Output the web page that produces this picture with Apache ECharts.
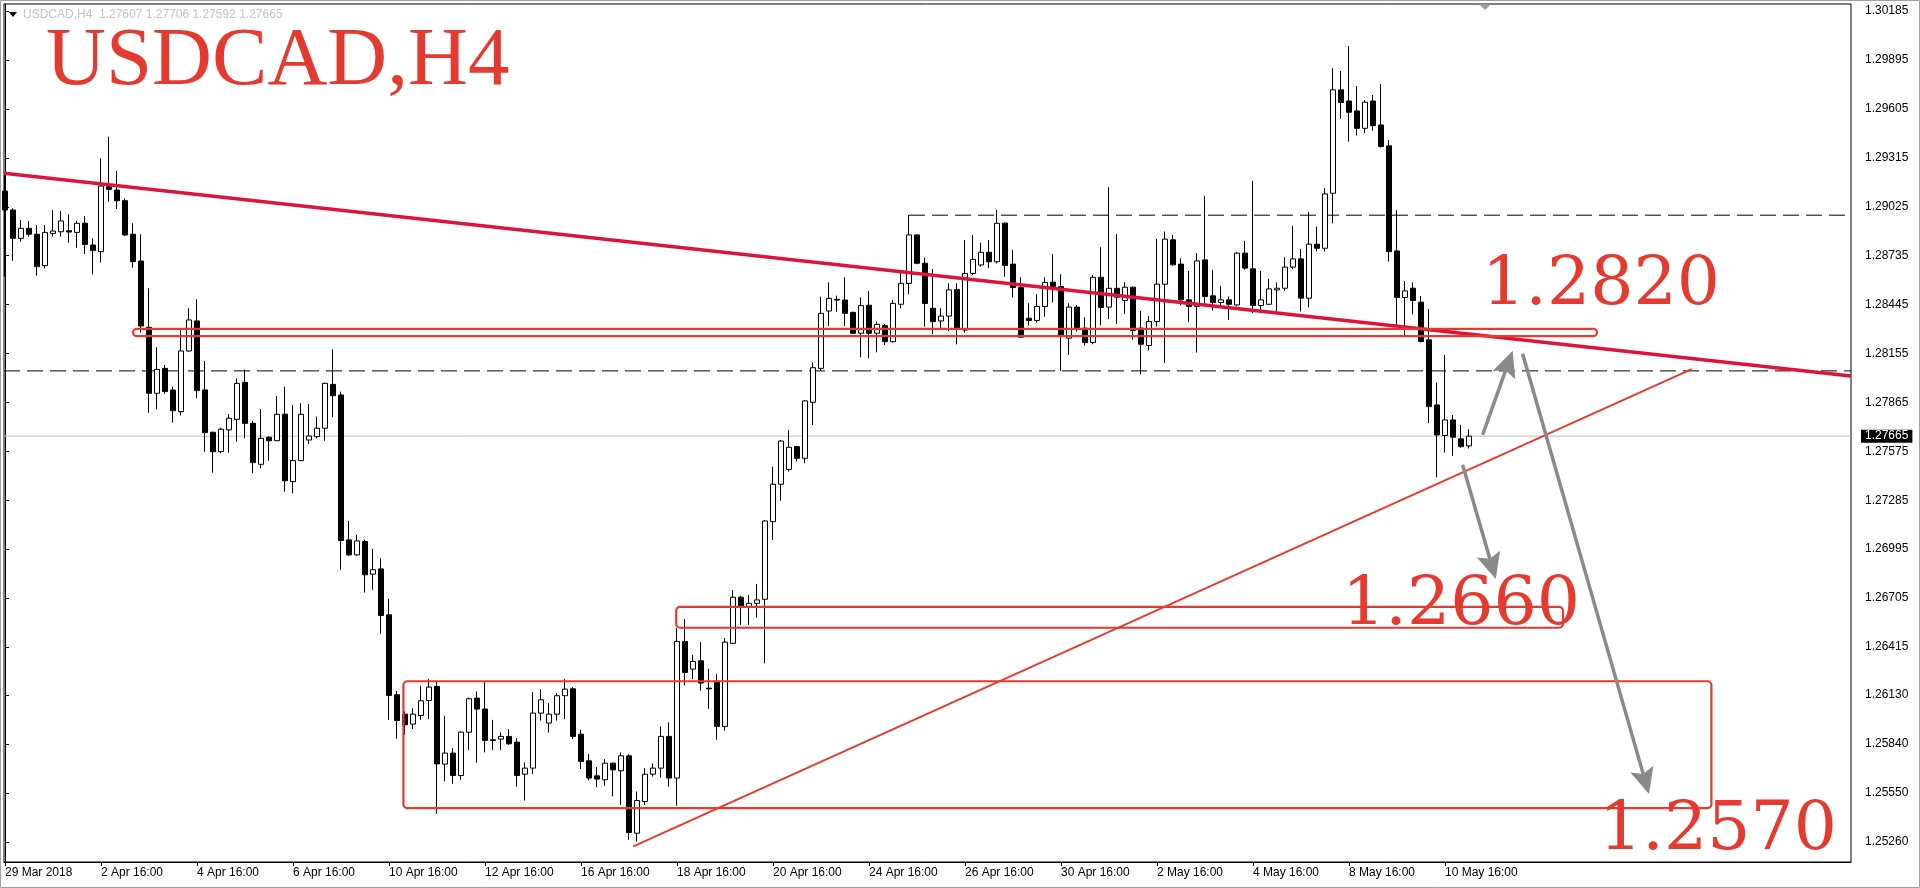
<!DOCTYPE html>
<html><head><meta charset="utf-8">
<script src="https://cdn.jsdelivr.net/npm/echarts@6/dist/echarts.min.js"></script>
<style>html,body{margin:0;padding:0;background:#fff;overflow:hidden}#c{width:1920px;height:888px}</style>
</head><body><div id="c"></div>
<script>
// ---- data (USDCAD H4, 184 candles) ----
const candleOpen = [1.29118,1.29006,1.28838,1.28897,1.28862,1.28676,1.28867,1.28877,1.28883,1.28873,1.28927,1.28798,1.28759,1.29144,1.29124,1.29061,1.28862,1.28703,1.28310,1.27919,1.28067,1.27939,1.27810,1.28170,1.28348,1.27939,1.27688,1.27573,1.27702,1.27765,1.27984,1.27741,1.27498,1.27658,1.27638,1.27795,1.27395,1.27520,1.27642,1.27662,1.27712,1.27972,1.27909,1.27050,1.26961,1.27040,1.26847,1.26878,1.26606,1.26132,1.26017,1.25958,1.26009,1.26098,1.26181,1.25721,1.25786,1.25653,1.25910,1.26112,1.26047,1.25865,1.25869,1.25885,1.25851,1.25661,1.25697,1.26023,1.25964,1.26017,1.26126,1.26167,1.25898,1.25740,1.25651,1.25628,1.25726,1.25681,1.25770,1.25311,1.25499,1.25661,1.25697,1.25885,1.25638,1.26448,1.26284,1.26333,1.26171,1.26205,1.25944,1.26437,1.26710,1.26654,1.26674,1.26698,1.27158,1.27380,1.27468,1.27603,1.27534,1.27866,1.28067,1.28407,1.28476,1.28472,1.28399,1.28275,1.28441,1.28275,1.28320,1.28225,1.28447,1.28571,1.28858,1.28690,1.28423,1.28348,1.28377,1.28535,1.28294,1.28630,1.28680,1.28755,1.28699,1.28928,1.28685,1.28546,1.28364,1.28351,1.28434,1.28578,1.28552,1.28246,1.28430,1.28305,1.28220,1.28607,1.28430,1.28542,1.28469,1.28548,1.28305,1.28202,1.28345,1.28566,1.28829,1.28685,1.28473,1.28434,1.28710,1.28497,1.28457,1.28473,1.28443,1.28750,1.28657,1.28440,1.28447,1.28532,1.28542,1.28667,1.28716,1.28483,1.28803,1.28779,1.29105,1.29718,1.29652,1.29593,1.29490,1.29652,1.29510,1.29386,1.28763,1.28487,1.28542,1.28459,1.28236,1.27850,1.27669,1.27761,1.27649,1.27607];
const candleClose = [1.29006,1.28838,1.28897,1.28862,1.28670,1.28873,1.28881,1.28941,1.28875,1.28927,1.28802,1.28765,1.29148,1.29128,1.29061,1.28858,1.28700,1.28318,1.27919,1.28061,1.27929,1.27816,1.28170,1.28354,1.27935,1.27686,1.27573,1.27706,1.27771,1.27978,1.27741,1.27508,1.27652,1.27638,1.27795,1.27401,1.27520,1.27795,1.27666,1.27712,1.27978,1.27905,1.27046,1.26961,1.27044,1.26843,1.26873,1.26602,1.26128,1.25979,1.25954,1.26017,1.26096,1.26177,1.25722,1.25786,1.25653,1.25910,1.26108,1.26047,1.25861,1.25861,1.25885,1.25841,1.25653,1.25697,1.26023,1.26102,1.26017,1.26126,1.26165,1.25885,1.25736,1.25638,1.25632,1.25726,1.25687,1.25770,1.25315,1.25505,1.25661,1.25697,1.25885,1.25638,1.26448,1.26264,1.26329,1.26201,1.26167,1.25944,1.26444,1.26710,1.26654,1.26674,1.26694,1.27162,1.27380,1.27636,1.27599,1.27534,1.27874,1.28071,1.28393,1.28482,1.28472,1.28393,1.28275,1.28439,1.28275,1.28328,1.28225,1.28452,1.28571,1.28858,1.28690,1.28452,1.28344,1.28377,1.28532,1.28298,1.28630,1.28713,1.28755,1.28699,1.28927,1.28677,1.28546,1.28252,1.28351,1.28434,1.28576,1.28552,1.28256,1.28430,1.28309,1.28220,1.28607,1.28428,1.28542,1.28489,1.28548,1.28291,1.28210,1.28345,1.28566,1.28833,1.28681,1.28473,1.28434,1.28704,1.28493,1.28457,1.28473,1.28447,1.28750,1.28661,1.28440,1.28473,1.28538,1.28542,1.28667,1.28716,1.28483,1.28803,1.28779,1.29101,1.29718,1.29643,1.29585,1.29490,1.29645,1.29506,1.29382,1.28759,1.28487,1.28526,1.28469,1.28226,1.27840,1.27672,1.27761,1.27659,1.27603,1.27665];
const candleLow = [1.28611,1.28705,1.28818,1.28848,1.28617,1.28660,1.28848,1.28848,1.28812,1.28782,1.28745,1.28624,1.28694,1.29055,1.29012,1.28852,1.28664,1.28279,1.27804,1.27824,1.27915,1.27745,1.27787,1.28166,1.27889,1.27573,1.27449,1.27563,1.27567,1.27632,1.27652,1.27445,1.27474,1.27520,1.27638,1.27336,1.27326,1.27520,1.27619,1.27652,1.27638,1.27777,1.26872,1.26956,1.26956,1.26738,1.26754,1.26493,1.25983,1.25871,1.25894,1.25928,1.25983,1.25987,1.25426,1.25618,1.25604,1.25628,1.25805,1.25730,1.25790,1.25805,1.25805,1.25835,1.25588,1.25505,1.25661,1.25979,1.25908,1.25979,1.25987,1.25869,1.25691,1.25624,1.25584,1.25592,1.25529,1.25479,1.25272,1.25262,1.25479,1.25647,1.25641,1.25588,1.25474,1.26187,1.26224,1.26157,1.26049,1.25865,1.25920,1.26433,1.26546,1.26546,1.26589,1.26318,1.27050,1.27283,1.27455,1.27514,1.27504,1.27731,1.28053,1.28318,1.28403,1.28318,1.28271,1.28132,1.28126,1.28162,1.28205,1.28219,1.28423,1.28506,1.28684,1.28314,1.28269,1.28304,1.28288,1.28209,1.28279,1.28620,1.28670,1.28660,1.28690,1.28611,1.28487,1.28246,1.28321,1.28339,1.28374,1.28457,1.28052,1.28147,1.28285,1.28202,1.28210,1.28321,1.28359,1.28329,1.28390,1.28236,1.28032,1.28173,1.28315,1.28098,1.28675,1.28440,1.28341,1.28161,1.28449,1.28410,1.28443,1.28355,1.28434,1.28651,1.28394,1.28394,1.28443,1.28404,1.28528,1.28655,1.28404,1.28428,1.28760,1.28760,1.28927,1.29546,1.29411,1.29447,1.29461,1.29477,1.29376,1.28700,1.28315,1.28255,1.28388,1.28220,1.27742,1.27420,1.27568,1.27548,1.27597,1.27592];
const candleHigh = [1.29213,1.29016,1.28947,1.28941,1.28917,1.28917,1.29006,1.29000,1.28980,1.28941,1.28970,1.28838,1.29312,1.29440,1.29237,1.29075,1.28927,1.28862,1.28541,1.28192,1.28087,1.27959,1.28294,1.28423,1.28476,1.28111,1.27692,1.27715,1.27796,1.28008,1.28061,1.27755,1.27826,1.27666,1.27903,1.27959,1.27850,1.27860,1.27856,1.27781,1.27982,1.28180,1.27929,1.27163,1.27080,1.27050,1.26997,1.26942,1.26701,1.26155,1.26033,1.26052,1.26185,1.26226,1.26207,1.26007,1.25815,1.25914,1.26116,1.26151,1.26207,1.25983,1.25908,1.25928,1.25875,1.25730,1.26147,1.26165,1.26082,1.26141,1.26226,1.26177,1.25924,1.25780,1.25703,1.25750,1.25730,1.25790,1.25780,1.25558,1.25697,1.25726,1.25944,1.25968,1.26527,1.26580,1.26369,1.26444,1.26286,1.26256,1.26468,1.26753,1.26718,1.26723,1.26789,1.27168,1.27484,1.27642,1.27702,1.27607,1.27879,1.28103,1.28492,1.28577,1.28498,1.28607,1.28403,1.28488,1.28526,1.28344,1.28330,1.28472,1.28640,1.28976,1.28862,1.28723,1.28656,1.28423,1.28571,1.28571,1.28828,1.28858,1.28812,1.28828,1.29006,1.28932,1.28770,1.28607,1.28453,1.28507,1.28607,1.28744,1.28625,1.28453,1.28443,1.28370,1.28621,1.28785,1.29141,1.28864,1.28578,1.28552,1.28408,1.28378,1.28835,1.28878,1.28858,1.28720,1.28645,1.28750,1.29090,1.28651,1.28556,1.28493,1.28756,1.28823,1.29179,1.28645,1.28598,1.28576,1.28726,1.28912,1.28775,1.28993,1.28908,1.29135,1.29846,1.29830,1.29978,1.29741,1.29658,1.29688,1.29753,1.29421,1.29006,1.28585,1.28577,1.28496,1.28419,1.27983,1.28147,1.27791,1.27732,1.27706];

const xTickIndex = [0,12,24,36,48,60,72,84,96,108,120,132,144,156,168,180];
const xTickLabels = ["29 Mar 2018","2 Apr 16:00","4 Apr 16:00","6 Apr 16:00","10 Apr 16:00","12 Apr 16:00","16 Apr 16:00","18 Apr 16:00","20 Apr 16:00","24 Apr 16:00","26 Apr 16:00","30 Apr 16:00","2 May 16:00","4 May 16:00","8 May 16:00","10 May 16:00"];
const yTickValues = [1.25260,1.25550,1.25840,1.26130,1.26415,1.26705,1.26995,1.27285,1.27575,1.27865,1.28155,1.28445,1.28735,1.29025,1.29315,1.29605,1.29895,1.30185];

// drawn objects, in (bar index, price)
const mainTrend = [[-0.125,1.29224],[230.75,1.28021]];
const supportTrend = [[78.54,1.25233],[210.84,1.28062]];
const upperDash = [[113,1.28975],[230.75,1.28975]];
const lowerDash = [[-0.125,1.28052],[230.75,1.28052]];
const zones = [[16.0,1.28301,199.0,1.28258],[83.9,1.26653,194.75,1.26529],[49.8,1.26212,213.3,1.25460]];
const arrows = [[184.7,1.27673,188.46,1.28172],[182.2,1.27495,186.34,1.26818],[189.7,1.28153,205.5,1.25543]];
const levelTexts = ["1.2820","1.2660","1.2570"];
const symbolName = "USDCAD,H4";

const N = candleOpen.length;
const last = N - 1;
const lastPrice = candleClose[last];
const candleData = candleOpen.map((o,i)=>[i,o,candleClose[i],candleLow[i],candleHigh[i]]);
const priceLine = [[-0.125,lastPrice],[230.75,lastPrice]];

const RED = '#E53A2F';
const chart = echarts.init(document.getElementById('c'), null, {renderer:'canvas'});
chart.setOption({
  animation:false,
  backgroundColor:'#fff',
  grid:{left:4, top:4, width:1847, height:858, show:true, borderColor:'#000', borderWidth:1, backgroundColor:'transparent'},
  xAxis:{
    type:'value', min:-0.125, max:230.75,
    splitLine:{show:false},
    axisLine:{show:true, lineStyle:{color:'#000', width:1}},
    axisTick:{show:true, length:4, customValues:xTickIndex, lineStyle:{color:'#000'}},
    axisLabel:{customValues:xTickIndex, align:'left', margin:5, color:'#000', fontSize:12, fontFamily:'Liberation Sans',
      formatter:(v)=>{const k=xTickIndex.indexOf(Math.round(v)); return k>=0?xTickLabels[k]:'';}}
  },
  yAxis:{
    type:'value', position:'right', min:1.251403, max:1.302271, scale:true,
    splitLine:{show:false},
    axisLine:{show:true, lineStyle:{color:'#000', width:1}},
    axisTick:{show:true, length:4, customValues:yTickValues, lineStyle:{color:'#000'}},
    axisLabel:{customValues:yTickValues, margin:14, color:'#000', fontSize:12, fontFamily:'Liberation Sans',
      formatter:(v)=>v.toFixed(5)}
  },
  series:[
    {type:'line', data:lowerDash, symbol:'none', silent:true, z:1,
      lineStyle:{color:'#000', width:1, type:[16,7]}},
    {type:'line', data:upperDash, symbol:'none', silent:true, z:1,
      lineStyle:{color:'#000', width:1, type:[16,7]}},
    {type:'line', data:priceLine, symbol:'none', silent:true, z:1,
      lineStyle:{color:'#c0c0c0', width:1},
      endLabel:{show:true, formatter:()=>lastPrice.toFixed(5), color:'#fff', backgroundColor:'#000',
        padding:[1,4,0,4], fontSize:12, fontFamily:'Liberation Sans', distance:10}},
    {type:'candlestick', data:candleData, barWidth:5, z:2,
      itemStyle:{color:'#fff', color0:'#000', borderColor:'#000', borderColor0:'#000', borderWidth:1}},
    {type:'line', data:supportTrend, symbol:'none', silent:true, z:4,
      lineStyle:{color:'#E8392F', width:2}},
    {type:'line', data:mainTrend, symbol:'none', silent:true, z:5,
      lineStyle:{color:'#DC143C', width:3.5}},
    {type:'custom', data:zones, encode:{x:[0,2], y:[1,3]}, silent:true, clip:false, z:6,
      renderItem:(params, api)=>{
        const p0 = api.coord([api.value(0), api.value(1)]);
        const p1 = api.coord([api.value(2), api.value(3)]);
        return {type:'rect', shape:{x:Math.min(p0[0],p1[0]), y:Math.min(p0[1],p1[1]),
          width:Math.abs(p1[0]-p0[0]), height:Math.abs(p1[1]-p0[1]), r:4},
          style:{fill:'none', stroke:RED, lineWidth:2.2}};
      }},
    {type:'custom', data:arrows, encode:{x:[0,2], y:[1,3]}, silent:true, clip:false, z:7,
      renderItem:(params, api)=>{
        const a = api.coord([api.value(0), api.value(1)]);
        const b = api.coord([api.value(2), api.value(3)]);
        const dx=b[0]-a[0], dy=b[1]-a[1], L=Math.hypot(dx,dy);
        const ux=dx/L, uy=dy/L, nx=-uy, ny=ux;
        const hl=26, hw=12, notch=5;
        const bx=b[0]-ux*hl, by=b[1]-uy*hl;
        const mx=b[0]-ux*(hl-notch), my=b[1]-uy*(hl-notch);
        return {type:'group', children:[
          {type:'line', shape:{x1:a[0], y1:a[1], x2:mx, y2:my}, style:{stroke:'#8a8a8a', lineWidth:3.5}},
          {type:'polygon', shape:{points:[[b[0],b[1]],[bx+nx*hw,by+ny*hw],[mx,my],[bx-nx*hw,by-ny*hw]]},
            style:{fill:'#8a8a8a'}}
        ]};
      }}
  ],
  graphic:[
    {type:'rect', silent:true, z:-10, shape:{x:0.5,y:0.5,width:1919,height:887}, style:{fill:'none', stroke:'#a0a0a0', lineWidth:1}},
    {type:'polygon', silent:true, shape:{points:[[9,12],[17,12],[13,17]]}, style:{fill:'#000'}},
    {type:'text', silent:true, style:{text:symbolName+'  '+candleOpen[last].toFixed(5)+' '+candleHigh[last].toFixed(5)+' '+candleLow[last].toFixed(5)+' '+candleClose[last].toFixed(5),
      x:23, y:15, fontSize:12, fontFamily:'Liberation Sans', fill:'#c3c3c3', verticalAlign:'middle'}},
    {type:'polygon', silent:true, shape:{points:[[1479,4],[1491,4],[1485,10]]}, style:{fill:'#9a9a9a'}},
    {type:'text', silent:true, z:20, style:{text:symbolName, x:46, y:62, fontSize:83, fontFamily:'"Liberation Serif"', fill:RED, verticalAlign:'middle'}},
    {type:'text', silent:true, z:20, style:{text:levelTexts[0], x:1482, y:286, fontSize:68, fontFamily:'"DejaVu Serif"', fill:RED, verticalAlign:'middle'}},
    {type:'text', silent:true, z:20, style:{text:levelTexts[1], x:1342, y:606, fontSize:68, fontFamily:'"DejaVu Serif"', fill:RED, verticalAlign:'middle'}},
    {type:'text', silent:true, z:20, style:{text:levelTexts[2], x:1599, y:831, fontSize:68, fontFamily:'"DejaVu Serif"', fill:RED, verticalAlign:'middle'}}
  ]
});
</script>
</body></html>
